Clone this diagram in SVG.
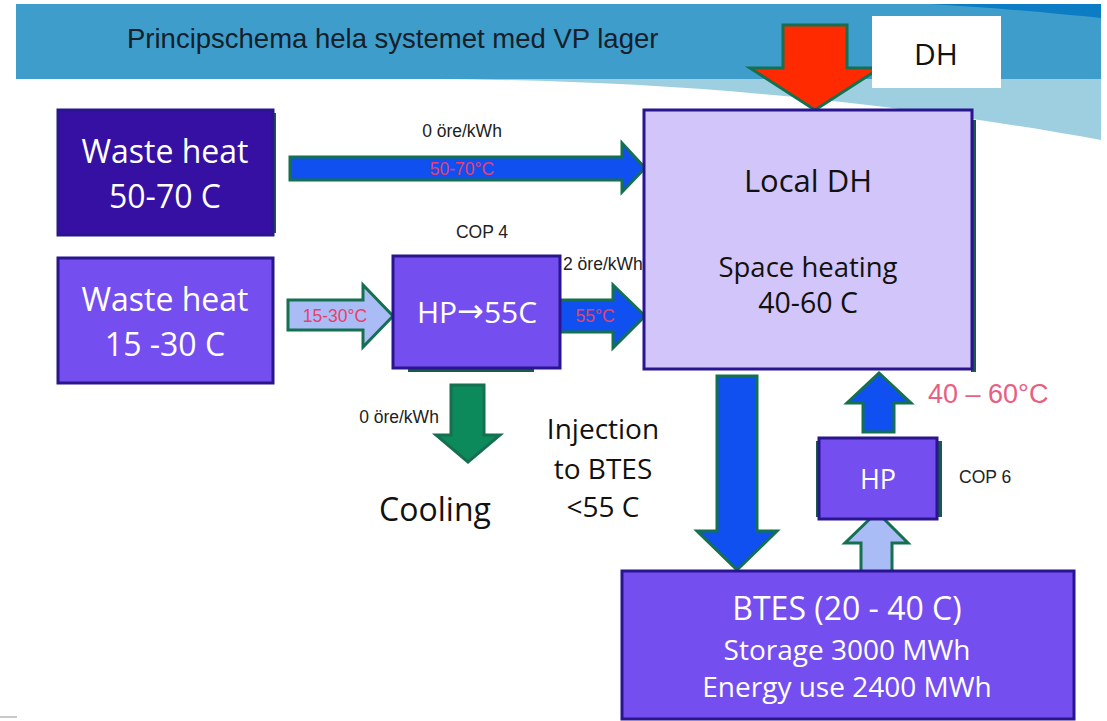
<svg xmlns="http://www.w3.org/2000/svg" width="1107" height="721" viewBox="0 0 1107 721">
  <style>
    .arr { stroke: #157050; stroke-width: 3; stroke-linejoin: miter; }
    .blue { fill: #1150f0; }
    .light { fill: #aabcf6; }
    .green { fill: #0c8a5c; }
    .red { fill: #ff2a00; }
    .box { stroke: #2a1590; stroke-width: 3; }
    .dark { fill: #3510a2; }
    .mid { fill: #754ef0; }
    .lav { fill: #d1c5f9; }
    .cal { font-family: "Open Sans", "Noto Sans", sans-serif; text-anchor: middle; }
    .w { fill: #ffffff; }
    .k { fill: #111111; }
    .ar { font-family: "Liberation Sans", Arial, sans-serif; font-size: 17.5px; fill: #222222; }
    .temp { font-family: "Liberation Sans", Arial, sans-serif; font-size: 17.5px; fill: #e8406a; text-anchor: middle; }
    .shadow { fill: #1a5a4a; }
  </style>

  <!-- header background -->
  <g id="header">
    <rect x="16" y="4" width="1085" height="75" fill="#3e9dca"/>
    <path d="M 440 79 C 650 81, 850 95, 1101 140 L 1101 79 Z" fill="#9dcfe0"/>
    <path d="M 930 4 C 1000 8, 1060 14, 1101 18 L 1101 4 Z" fill="#0c7cc4"/>
    <text x="127" y="48" font-family="Liberation Sans, Arial, sans-serif" font-size="27.5" fill="#15202a">Principschema hela systemet med VP lager</text>
  </g>
  <rect x="0" y="716" width="17" height="2" fill="#c8c8c8"/>

  <!-- connectors -->
  <g id="connectors">
    <polygon id="a-dh" class="arr red" points="783,25 847,25 847,68 880,68 815,110 750,68 783,68"/>
    <polygon id="a-5070" class="arr blue" points="290,157 622,157 622,143 645,168 622,192 622,180 290,180"/>
    <polygon id="a-1530" class="arr light" points="288,300 363,300 363,285 393,316 363,347 363,330 288,330"/>
    <polygon id="a-55" class="arr blue" points="560,300 613,300 613,285 645,316 613,348 613,332 560,332"/>
    <polygon id="a-cool" class="arr green" points="451,385 484,385 484,435 500,435 468,462 436,435 451,435"/>
    <polygon id="a-inj" class="arr blue" points="717,376 757,376 757,531 777,531 737,570 697,531 717,531"/>
    <polygon id="a-hpup" class="arr blue" points="863,432 894,432 894,403 911,403 879,373 847,403 863,403"/>
    <polygon id="a-btesup" class="arr light" points="861,572 892,572 892,543 908,543 877,512 845,543 861,543"/>

    <text class="ar" x="462" y="137" text-anchor="middle">0 öre/kWh</text>
    <text class="temp" x="462" y="175">50-70°C</text>
    <text class="temp" x="335" y="322">15-30°C</text>
    <text class="temp" x="595" y="322">55°C</text>
    <text class="ar" x="482" y="238" text-anchor="middle">COP 4</text>
    <text class="ar" x="563" y="270">2 öre/kWh</text>
    <text class="ar" x="399" y="423" text-anchor="middle">0 öre/kWh</text>
    <text x="928" y="403" font-family="Liberation Sans, Arial, sans-serif" font-size="27" fill="#e86080">40 – 60°C</text>
    <text class="ar" x="959" y="483">COP 6</text>
  </g>

  <g id="dh">
    <rect x="872" y="16" width="129" height="72" fill="#ffffff"/>
    <text class="cal k" x="936" y="65" font-size="30">DH</text>
  </g>

  <g id="waste-heat-50-70">
    <rect class="shadow" x="273" y="113" width="3" height="120"/>
    <rect class="box dark" x="58" y="110" width="215" height="125"/>
    <text class="cal w" x="165" y="163" font-size="32">Waste heat</text>
    <text class="cal w" x="165" y="208" font-size="32">50-70 C</text>
  </g>

  <g id="waste-heat-15-30">
    <rect class="box mid" x="58" y="258" width="215" height="125"/>
    <text class="cal w" x="165" y="311" font-size="32">Waste heat</text>
    <text class="cal w" x="165" y="356" font-size="32">15 -30 C</text>
  </g>

  <g id="hp-55">
    <rect class="shadow" x="408" y="367" width="126" height="5"/>
    <rect class="box mid" x="393" y="256" width="167" height="112"/>
    <text class="cal w" x="477" y="323" font-size="30">HP<tspan font-family="DejaVu Sans, sans-serif" font-size="32" dy="-1">→</tspan><tspan dy="1">55C</tspan></text>
  </g>

  <g id="local-dh">
    <rect class="shadow" x="971" y="120" width="5" height="252"/>
    <rect class="box lav" x="644" y="110" width="328" height="259"/>
    <text class="cal k" x="808" y="192" font-size="31">Local DH</text>
    <text class="cal k" x="808" y="277" font-size="27.5">Space heating</text>
    <text class="cal k" x="808" y="313" font-size="28.5">40-60 C</text>
  </g>

  <g id="hp">
    <rect class="shadow" x="816" y="441" width="126" height="76"/>
    <rect class="box mid" x="819" y="438" width="118" height="81"/>
    <text class="cal w" x="878" y="489" font-size="27">HP</text>
  </g>

  <g id="cooling">
    <text class="cal k" x="435" y="521" font-size="32">Cooling</text>
  </g>

  <g id="injection">
    <text class="cal k" x="603" y="439" font-size="28">Injection</text>
    <text class="cal k" x="603" y="479" font-size="28">to BTES</text>
    <text class="cal k" x="603" y="517" font-size="28">&lt;55 C</text>
  </g>

  <g id="btes">
    <rect class="box mid" x="622" y="571" width="452" height="148"/>
    <text class="cal w" x="847" y="620" font-size="32">BTES (20 - 40 C)</text>
    <text class="cal w" x="847" y="660" font-size="28">Storage 3000 MWh</text>
    <text class="cal w" x="847" y="697" font-size="28">Energy use 2400 MWh</text>
  </g>
</svg>
